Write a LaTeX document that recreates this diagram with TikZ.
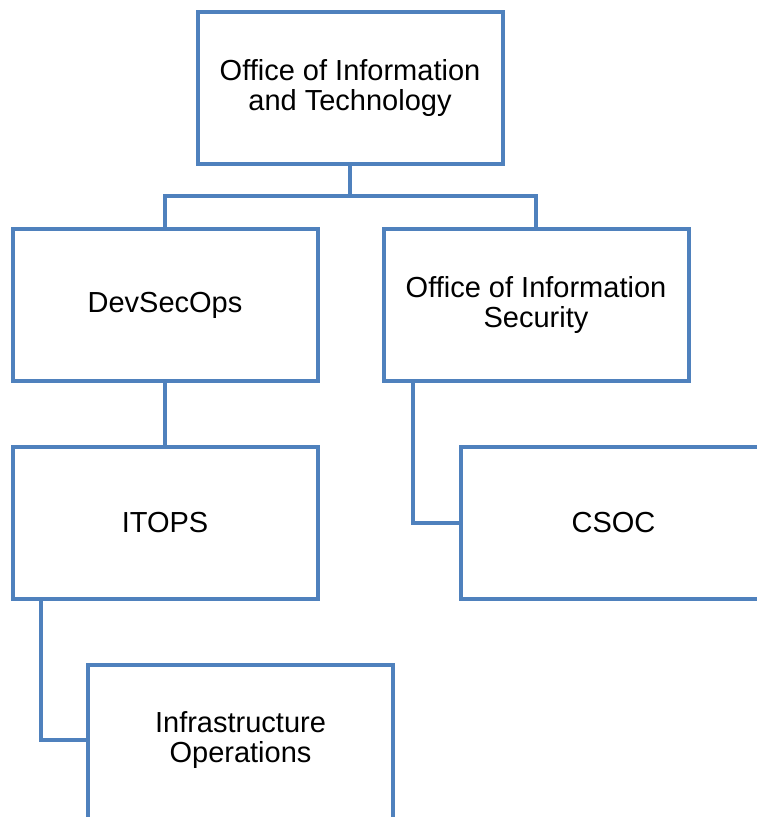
\documentclass[tikz,border=0pt]{standalone}
\usepackage{fontspec}
\setmainfont{Liberation Sans}
\definecolor{boxblue}{HTML}{4F81BD}
\tikzset{
  orgbox/.style={draw=boxblue, line width=4pt, fill=white, minimum width=305pt, minimum height=152pt,
    inner sep=0pt, align=center, font=\fontsize{29}{30}\selectfont, text=black},
  link/.style={draw=boxblue, line width=4pt}
}
\begin{document}
\begin{tikzpicture}[x=1pt, y=-1pt]
\useasboundingbox (0,0) rectangle (757,817);
\clip (0,0) rectangle (757,817);
\fill[white] (0,0) rectangle (757,817);
\node[orgbox] (top) at (350,87.5) {Office of Information\\and Technology};
\node[orgbox] (dev) at (165,305) {DevSecOps};
\node[orgbox] (ois) at (536,305) {Office of Information\\Security};
\node[orgbox] (itops) at (165,523) {ITOPS};
\node[orgbox] (csoc) at (613.5,523) {CSOC};
\node[orgbox, minimum height=160pt, text depth=0pt] (infra) at (240.5,745) {};
\node[align=center, font=\fontsize{29}{30}\selectfont, inner sep=0pt] (infratext) at (240.5,740) {Infrastructure\\Operations};
\coordinate (bus) at (350,196);
\draw[link] (top.south) -- (bus);
\draw[link] (dev.north) |- (bus) -| (ois.north);
\draw[link] (dev.south) -- (itops.north);
\draw[link] ([xshift=31pt]ois.south west) |- (csoc.west);
\draw[link] ([xshift=30pt]itops.south west) |- (infratext.west -| infra.west);
\end{tikzpicture}
\end{document}
